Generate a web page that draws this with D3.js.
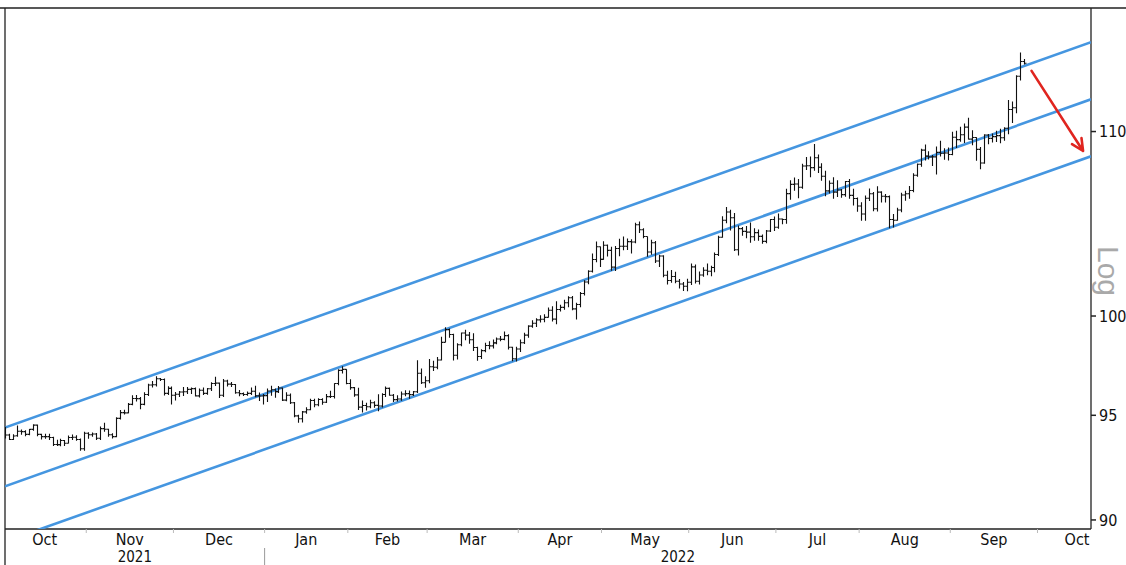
<!DOCTYPE html>
<html>
<head>
<meta charset="utf-8">
<script src="https://cdn.jsdelivr.net/npm/d3@7"></script>
<style>
  body { margin: 0; background: #fff; }
  svg { display: block; }
</style>
</head>
<body>
<svg></svg>
<script>
width = 1126
height = 565
plot = {left: 5, right: 1091, top: 8, bottom: 529}
font = "'DejaVu Sans Condensed', 'Liberation Sans', sans-serif"

// daily bars, [open, high, low, close], one array per month (weekdays only)
oct21 = [[94.30,94.44,93.87,94.04],[94.04,94.10,93.79,93.82],[93.82,94.08,93.80,93.99],[94.00,94.50,93.95,94.22],[94.22,94.30,94.05,94.20],
  [94.20,94.27,93.98,94.07],[94.07,94.33,94.03,94.31],[94.31,94.56,94.25,94.52],[94.52,94.55,93.98,94.07],[94.07,94.10,93.82,93.96],
  [93.96,94.10,93.86,93.96],[93.96,94.10,93.80,93.92],[93.92,93.95,93.50,93.58],[93.58,93.81,93.50,93.57],[93.57,93.85,93.49,93.77],
  [93.77,93.80,93.50,93.64],[93.64,94.01,93.62,93.92],[93.92,94.06,93.80,93.93],[93.93,94.02,93.76,93.82],[93.82,93.87,93.28,93.37],
  [93.37,94.20,93.28,94.12]]
nov21 = [[94.12,94.17,93.86,94.05],[94.05,94.16,93.95,94.09],[94.09,94.14,93.79,93.88],[93.88,94.45,93.80,94.35],[94.35,94.63,94.20,94.32],
  [94.32,94.34,93.95,94.05],[94.05,94.12,93.87,93.96],[93.96,94.90,93.93,94.85],[94.85,95.26,94.80,95.13],[95.13,95.27,95.04,95.12],
  [95.12,95.60,95.10,95.54],[95.54,95.99,95.50,95.83],[95.83,96.00,95.68,95.82],[95.82,95.90,95.30,95.54],[95.54,96.14,95.50,96.03],
  [96.03,96.56,95.95,96.50],[96.50,96.70,96.37,96.51],[96.51,96.94,96.43,96.81],[96.81,96.85,96.70,96.77],[96.77,96.82,95.98,96.08],
  [96.08,96.44,96.00,96.33],[96.33,96.43,95.53,95.99]]
dec21 = [[95.99,96.15,95.73,96.04],[96.04,96.20,95.90,96.15],[96.15,96.40,95.95,96.16],[96.16,96.40,96.05,96.28],[96.28,96.38,96.05,96.32],
  [96.32,96.37,95.93,95.96],[95.96,96.32,95.88,96.24],[96.24,96.38,96.00,96.08],[96.08,96.35,96.02,96.31],[96.31,96.64,96.20,96.57],
  [96.57,96.91,96.45,96.59],[96.59,96.62,95.85,95.99],[95.99,96.80,95.90,96.70],[96.70,96.76,96.42,96.54],[96.54,96.65,96.40,96.52],
  [96.52,96.55,96.06,96.11],[96.11,96.25,95.94,96.07],[96.07,96.12,95.95,96.03],[96.03,96.17,95.96,96.08],[96.08,96.37,96.00,96.19],
  [96.19,96.46,95.89,95.96],[95.96,96.12,95.70,95.95],[95.95,96.05,95.53,95.97]]
jan22 = [[95.97,96.32,95.66,96.20],[96.20,96.46,95.96,96.26],[96.26,96.32,95.86,96.17],[96.17,96.45,96.10,96.35],[96.35,96.38,95.71,95.75],
  [95.75,96.14,95.69,95.99],[95.99,96.07,95.55,95.62],[95.62,95.66,94.91,94.97],[94.97,95.03,94.63,94.83],[94.83,95.21,94.65,95.17],
  [95.17,95.40,95.08,95.27],[95.27,95.82,95.25,95.73],[95.73,95.81,95.40,95.52],[95.52,95.84,95.45,95.78],[95.78,95.84,95.52,95.64],
  [95.64,96.05,95.60,95.92],[95.92,96.21,95.85,95.93],[95.93,96.58,95.83,96.57],[96.57,97.29,96.49,97.23],[97.23,97.44,97.07,97.28],
  [97.28,97.29,96.53,96.57]]
feb22 = [[96.57,96.78,96.26,96.37],[96.37,96.40,95.91,96.01],[96.01,96.36,95.26,95.40],[95.40,95.73,95.14,95.48],[95.48,95.62,95.23,95.42],
  [95.42,95.77,95.35,95.62],[95.62,95.69,95.37,95.49],[95.49,96.04,95.20,95.46],[95.46,96.09,95.38,96.03],[96.03,96.43,95.90,96.33],
  [96.33,96.37,95.96,95.99],[95.99,96.05,95.66,95.77],[95.77,95.99,95.68,95.80],[95.80,96.17,95.72,96.05],[96.05,96.24,95.94,96.07],
  [96.07,96.22,95.82,96.02],[96.02,96.20,95.95,96.16],[96.16,97.74,96.10,97.09],[97.09,97.32,96.55,96.61],[96.61,96.93,96.36,96.71]]
mar22 = [[96.71,97.80,96.59,97.41],[97.41,97.72,97.20,97.39],[97.39,97.91,97.29,97.75],[97.75,98.93,97.73,98.65],[98.65,99.42,98.65,99.30],
  [99.30,99.36,98.88,99.05],[99.05,99.09,97.73,97.99],[97.99,98.60,97.78,98.53],[98.53,99.15,98.45,99.13],[99.13,99.29,98.76,99.02],
  [99.02,99.18,98.58,98.78],[98.78,99.11,98.21,98.39],[98.39,98.43,97.71,97.93],[97.93,98.30,97.80,98.23],[98.23,98.63,98.14,98.49],
  [98.49,98.70,98.30,98.47],[98.47,98.80,98.34,98.62],[98.62,98.90,98.55,98.82],[98.82,98.97,98.70,98.80],[98.80,99.20,98.75,98.99],
  [98.99,99.06,98.28,98.40],[98.40,98.42,97.69,97.82],[97.82,98.43,97.68,98.31]]
apr22 = [[98.31,98.80,98.16,98.63],[98.63,99.14,98.56,99.02],[99.02,99.52,98.88,99.48],[99.48,99.78,99.39,99.63],[99.63,99.88,99.43,99.80],
  [99.80,100.04,99.67,99.83],[99.83,100.09,99.68,99.93],[99.93,100.44,99.92,100.30],[100.30,100.51,99.72,99.84],[99.84,100.76,99.57,100.34],
  [100.34,100.58,100.24,100.45],[100.45,100.84,100.33,100.69],[100.69,101.03,100.46,100.95],[100.95,101.04,100.30,100.37],[100.37,100.69,99.82,100.60],
  [100.60,101.25,100.46,101.17],[101.17,101.86,101.06,101.77],[101.77,102.39,101.66,102.34],[102.34,103.28,102.28,102.96],[102.96,103.93,102.82,103.64],
  [103.64,103.66,102.57,102.97]]
may22 = [[102.97,103.94,102.95,103.72],[103.72,103.76,103.12,103.45],[103.45,103.64,102.37,102.56],[102.56,103.68,102.35,103.55],[103.55,104.07,103.14,103.67],
  [103.67,104.19,103.46,103.67],[103.67,104.08,103.47,103.92],[103.92,104.05,103.28,103.90],[103.90,104.93,103.83,104.83],[104.83,105.01,104.38,104.56],
  [104.56,104.64,104.10,104.19],[104.19,104.20,103.11,103.36],[103.36,104.02,103.21,103.86],[103.86,103.95,102.78,102.88],[102.88,103.21,102.56,103.15],
  [103.15,103.19,102.02,102.13],[102.13,102.36,101.64,101.85],[101.85,102.41,101.74,102.06],[102.06,102.32,101.71,101.81],[101.81,101.93,101.43,101.67],
  [101.67,101.77,101.30,101.55],[101.55,101.94,101.29,101.76]]
jun22 = [[101.76,102.75,101.62,102.57],[102.57,102.70,101.69,101.81],[101.81,102.33,101.64,102.14],[102.14,102.55,102.05,102.39],[102.39,102.75,102.13,102.34],
  [102.34,102.63,102.08,102.54],[102.54,103.34,102.29,103.23],[103.23,104.24,103.15,104.15],[104.15,105.29,104.12,105.07],[105.07,105.79,104.91,105.52],
  [105.52,105.65,104.52,105.21],[105.21,105.47,103.41,103.48],[103.48,104.79,103.18,104.62],[104.62,104.71,104.23,104.47],[104.47,104.76,104.10,104.43],
  [104.43,104.95,103.86,104.18],[104.18,104.64,103.96,104.40],[104.40,104.57,103.97,104.20],[104.20,104.30,103.81,103.93],[103.93,104.54,103.83,104.49],
  [104.49,105.14,104.44,105.11],[105.11,105.27,104.49,104.69]]
jul22 = [[104.69,105.44,104.61,105.14],[105.14,105.17,104.85,105.11],[105.11,106.79,104.88,106.53],[106.53,107.27,106.19,107.04],[107.04,107.42,106.68,107.06],
  [107.06,107.33,106.27,106.88],[106.88,108.19,106.79,108.06],[108.06,108.56,107.83,108.07],[108.07,108.59,107.43,107.97],[107.97,109.29,107.79,108.52],
  [108.52,108.70,107.67,107.99],[107.99,108.21,107.24,107.49],[107.49,107.79,106.39,106.68],[106.68,107.25,106.53,107.10],[107.10,107.43,106.24,106.61],
  [106.61,107.26,106.34,106.73],[106.73,106.78,106.30,106.47],[106.47,107.22,106.36,107.20],[107.20,107.33,106.25,106.43],[106.43,106.79,105.88,106.26],
  [106.26,106.32,105.54,105.85]]
aug22 = [[105.85,106.05,105.04,105.41],[105.41,106.43,105.05,106.27],[106.27,106.81,106.12,106.52],[106.52,106.62,105.56,105.70],[105.70,106.93,105.55,106.61],
  [106.61,106.66,106.04,106.38],[106.38,106.51,106.04,106.36],[106.36,106.42,104.64,105.11],[105.11,105.41,104.68,105.07],[105.07,105.75,105.05,105.63],
  [105.63,106.57,105.51,106.45],[106.45,106.69,106.13,106.52],[106.52,106.95,106.24,106.70],[106.70,107.65,106.61,107.54],[107.54,108.20,107.46,108.16],
  [108.16,109.03,108.02,108.95],[108.95,109.27,108.36,108.61],[108.61,108.88,108.42,108.57],[108.57,108.68,108.06,108.57],[108.57,109.15,107.59,108.82],
  [108.82,109.48,108.59,108.77],[108.77,109.05,108.41,108.79],[108.79,109.10,108.37,108.70]]
sep22 = [[108.70,109.99,108.66,109.68],[109.68,110.04,109.07,109.54],[109.54,110.27,109.42,109.82],[109.82,110.46,109.35,110.25],[110.25,110.79,109.55,109.57],
  [109.57,110.07,109.23,109.66],[109.66,109.68,108.35,108.99],[108.99,109.13,107.88,108.23],[108.23,109.84,108.19,109.80],[109.80,109.86,109.28,109.61],
  [109.61,109.89,109.38,109.71],[109.71,110.04,109.41,109.77],[109.77,110.16,109.34,109.65],[109.65,110.24,109.48,110.19],[110.19,111.81,109.85,111.26],
  [111.26,111.72,110.48,111.36],[111.36,113.24,111.05,113.19],[113.19,114.58,112.94,114.05],[114.05,114.20,113.88,113.95]]

monthLabels = ["Oct", "Nov", "Dec", "Jan", "Feb", "Mar", "Apr", "May", "Jun", "Jul", "Aug", "Sep", "Oct"]
yearLabels = ["2021", "2022"]
yTicks = [90, 95, 100, 110]

// trend channel, from first bar to the right edge of the plot
channelDates = ["2021-10-01", "2022-10-20"]
upperLine = [94.4, 115.2]
middleLine = [91.58, 111.85]
lowerLine = [89.0, 108.6]
arrowDates = ["2022-09-29", "2022-10-18"]
arrowValues = [113.5, 108.9]

bars = [].concat(oct21, nov21, dec21, jan22, feb22, mar22, apr22, may22, jun22, jul22, aug22, sep22)

// weekday calendar, one slot per trading day
days = d3.timeDay.range(new Date(2021, 9, 1), new Date(2022, 10, 1)).filter(d => d.getDay() % 6 != 0)
fmt = d3.timeFormat("%Y-%m-%d")
indexOf = s => days.findIndex(d => fmt(d) == s)

x = d3.scaleLinear().domain([0, 274]).range([plot.left, plot.right])
y = d3.scaleLog().domain([89.58, 117.25]).range([plot.bottom, plot.top])

chart = function() {
  const svg = d3.select("svg")
      .attr("width", width)
      .attr("height", height)
      .attr("font-family", font);

  svg.append("clipPath").attr("id", "clip")
    .append("rect")
      .attr("x", plot.left).attr("y", plot.top)
      .attr("width", plot.right - plot.left).attr("height", plot.bottom - plot.top);

  // frame
  svg.append("path")
      .attr("fill", "none")
      .attr("stroke", "#222")
      .attr("stroke-width", 1.3)
      .attr("d", `M0,${plot.top}H${width}M${plot.left},${plot.top}V${height}M${plot.left},${plot.bottom}H${plot.right}M${plot.right},${plot.top}V${plot.bottom}`);

  const g = svg.append("g").attr("clip-path", "url(#clip)");

  // channel lines
  const ch = channelDates.map(indexOf);
  g.append("g")
      .attr("stroke", "#4596e0")
      .attr("stroke-width", 2.6)
      .attr("fill", "none")
    .selectAll("line")
    .data([upperLine, middleLine, lowerLine])
    .join("line")
      .attr("x1", x(ch[0])).attr("x2", x(ch[1]))
      .attr("y1", d => y(d[0])).attr("y2", d => y(d[1]));

  // OHLC bars
  g.append("g")
      .attr("stroke", "#111")
      .attr("stroke-width", 1.1)
      .attr("fill", "none")
    .selectAll("path")
    .data(bars)
    .join("path")
      .attr("d", ([o, h, l, c], i) => {
        const cx = Math.round(x(i)) + 0.5;
        return `M${cx},${y(h)}V${y(l)}M${cx - 2},${y(o)}H${cx}M${cx},${y(c)}H${cx + 2}`;
      });

  // red arrow
  const a0 = [x(indexOf(arrowDates[0])), y(arrowValues[0])];
  const a1 = [x(indexOf(arrowDates[1])), y(arrowValues[1])];
  const ang = Math.atan2(a1[1] - a0[1], a1[0] - a0[0]);
  const head = s => [a1[0] - 13 * Math.cos(ang + s), a1[1] - 13 * Math.sin(ang + s)];
  svg.append("path")
      .attr("fill", "none")
      .attr("stroke", "#e0251f")
      .attr("stroke-width", 2.6)
      .attr("stroke-linecap", "round")
      .attr("stroke-linejoin", "round")
      .attr("d", `M${a0}L${a1}M${head(0.45)}L${a1}L${head(-0.45)}`);

  // right axis
  const ya = svg.append("g");
  ya.selectAll("line")
    .data(yTicks)
    .join("line")
      .attr("x1", plot.right).attr("x2", plot.right + 5)
      .attr("y1", d => y(d)).attr("y2", d => y(d))
      .attr("stroke", "#222").attr("stroke-width", 1.5);
  ya.selectAll("text")
    .data(yTicks)
    .join("text")
      .attr("x", plot.right + 8)
      .attr("y", d => y(d))
      .attr("dy", "0.35em")
      .attr("font-size", 16)
      .attr("fill", "#111")
      .text(d => d);

  svg.append("text")
      .attr("transform", `translate(${plot.right + 7},271) rotate(90)`)
      .attr("text-anchor", "middle")
      .attr("font-family", "'Liberation Sans', sans-serif")
      .attr("font-size", 30)
      .attr("fill", "#a9a9a9")
      .text("Log");

  // bottom axis: months
  const firsts = [];
  days.forEach((d, i) => { if (i == 0 || d.getMonth() != days[i - 1].getMonth()) firsts.push(i); });
  const xa = svg.append("g");
  xa.selectAll("line")
    .data(firsts.slice(1))
    .join("line")
      .attr("x1", d => x(d - 0.5)).attr("x2", d => x(d - 0.5))
      .attr("y1", plot.bottom).attr("y2", plot.bottom + 4)
      .attr("stroke", "#bbb");
  xa.selectAll("text")
    .data(monthLabels)
    .join("text")
      .attr("x", (d, k) => {
        const last = k + 1 < firsts.length ? firsts[k + 1] - 1 : days.length - 1;
        return Math.min(x((firsts[k] + last) / 2), plot.right - 14);
      })
      .attr("y", plot.bottom + 16)
      .attr("text-anchor", "middle")
      .attr("font-size", 16)
      .attr("fill", "#111")
      .text(d => d);

  // years
  const yearStart = firsts[3];
  svg.append("line")
      .attr("x1", x(yearStart - 0.5)).attr("x2", x(yearStart - 0.5))
      .attr("y1", plot.bottom + 19).attr("y2", height)
      .attr("stroke", "#999");
  svg.selectAll(".year")
    .data(yearLabels)
    .join("text")
      .attr("class", "year")
      .attr("x", (d, k) => k == 0 ? (plot.left + x(yearStart - 0.5)) / 2 : (x(yearStart - 0.5) + plot.right) / 2)
      .attr("y", plot.bottom + 33)
      .attr("text-anchor", "middle")
      .attr("font-size", 15)
      .attr("fill", "#111")
      .text(d => d);

  return svg.node();
}

chart()
</script>
</body>
</html>
